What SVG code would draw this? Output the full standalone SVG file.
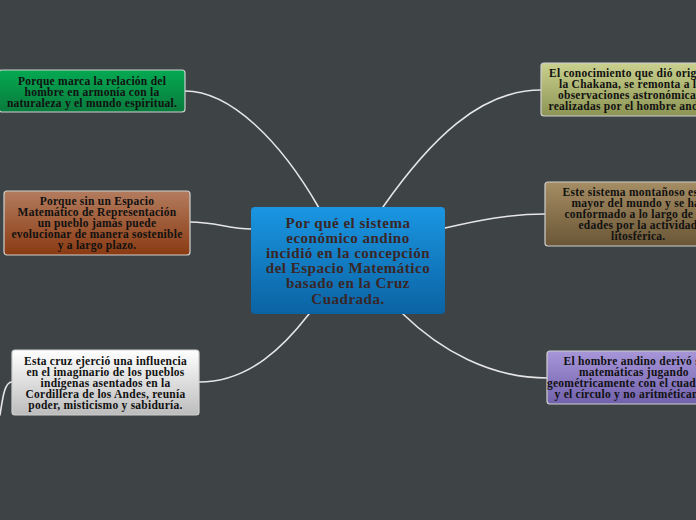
<svg xmlns="http://www.w3.org/2000/svg" width="696" height="520" viewBox="0 0 696 520">
<defs>
<linearGradient id="gGreen" x1="0" y1="0" x2="0" y2="1"><stop offset="0" stop-color="#04a952"/><stop offset="1" stop-color="#0a7a3c"/></linearGradient>
<linearGradient id="gBrown" x1="0" y1="0" x2="0" y2="1"><stop offset="0" stop-color="#b37c5e"/><stop offset="1" stop-color="#8a3a12"/></linearGradient>
<linearGradient id="gGrey" x1="0" y1="0" x2="0" y2="1"><stop offset="0" stop-color="#ffffff"/><stop offset="1" stop-color="#bcbcbc"/></linearGradient>
<linearGradient id="gBlue" x1="0" y1="0" x2="0" y2="1"><stop offset="0" stop-color="#1a96e2"/><stop offset="1" stop-color="#0b63a3"/></linearGradient>
<linearGradient id="gOlive" x1="0" y1="0" x2="0" y2="1"><stop offset="0" stop-color="#cad18e"/><stop offset="1" stop-color="#8c9454"/></linearGradient>
<linearGradient id="gTan" x1="0" y1="0" x2="0" y2="1"><stop offset="0" stop-color="#a58d64"/><stop offset="1" stop-color="#6a5636"/></linearGradient>
<linearGradient id="gPurple" x1="0" y1="0" x2="0" y2="1"><stop offset="0" stop-color="#a796d8"/><stop offset="1" stop-color="#7161ac"/></linearGradient>
</defs>
<style>
.node rect{stroke:#cfcfcf;stroke-width:1.2}
.t{font-family:"Liberation Serif","Times New Roman",serif;font-weight:bold;font-size:11.5px;letter-spacing:0.25px;fill:#111}
.c{font-family:"Liberation Serif","Times New Roman",serif;font-weight:bold;font-size:15px;letter-spacing:0.5px;fill:#3a2626;text-anchor:middle}
.m{text-anchor:middle}
#connectors path{fill:none;stroke:#e6e6e6;stroke-width:1.6;stroke-linecap:round}
</style>
<rect x="0" y="0" width="696" height="520" fill="#3e4446"/>
<g id="connectors">
<path d="M185,91 C230,91 280,140 319,208"/>
<path d="M190,222 C215,222 230,229 251,229"/>
<path d="M199,382 C250,382 285,345 309,314"/>
<path d="M12,382 C5,382 3,395 0,415"/>
<path d="M383,207 C430,140 480,90 541,90"/>
<path d="M445,228 C480,220 510,214 545,214"/>
<path d="M403,314 C440,350 490,378 547,378"/>
</g>
<g id="center">
<rect x="251" y="207" width="194" height="107" rx="4" fill="url(#gBlue)"/>
<text class="c" x="348"><tspan x="348" y="227.5">Por qué el sistema</tspan><tspan x="348" y="242.7">económico andino</tspan><tspan x="348" y="257.9">incidió en la concepción</tspan><tspan x="348" y="273.1">del Espacio Matemático</tspan><tspan x="348" y="288.3">basado en la Cruz</tspan><tspan x="348" y="303.5">Cuadrada.</tspan></text>
</g>
<g id="n1" class="node">
<rect x="-1" y="70" width="186" height="42" rx="3" fill="url(#gGreen)"/>
<text class="t m"><tspan x="92" y="84.5">Porque marca la relación del</tspan><tspan x="92" y="95.5">hombre en armonía con la</tspan><tspan x="92" y="106.5">naturaleza y el mundo espiritual.</tspan></text>
</g>
<g id="n2" class="node">
<rect x="4" y="191" width="186" height="64" rx="3" fill="url(#gBrown)"/>
<text class="t m"><tspan x="97" y="205">Porque sin un Espacio</tspan><tspan x="97" y="216">Matemático de Representación</tspan><tspan x="97" y="227">un pueblo jamás puede</tspan><tspan x="97" y="238">evolucionar de manera sostenible</tspan><tspan x="97" y="249">y a largo plazo.</tspan></text>
</g>
<g id="n3" class="node">
<rect x="12" y="350" width="187" height="65" rx="3" fill="url(#gGrey)"/>
<text class="t m"><tspan x="105.5" y="365">Esta cruz ejerció una influencia</tspan><tspan x="105.5" y="376">en el imaginario de los pueblos</tspan><tspan x="105.5" y="387">indígenas asentados en la</tspan><tspan x="105.5" y="398">Cordillera de los Andes, reunía</tspan><tspan x="105.5" y="409">poder, misticismo y sabiduría.</tspan></text>
</g>
<g id="r1" class="node">
<rect x="541" y="63" width="200" height="53" rx="3" fill="url(#gOlive)"/>
<text class="t"><tspan x="549" y="76.5">El conocimiento que dió origen a</tspan><tspan x="559" y="87.5">la Chakana, se remonta a las</tspan><tspan x="558" y="98.5">observaciones astronómicas</tspan><tspan x="548.5" y="109.5">realizadas por el hombre andino.</tspan></text>
</g>
<g id="r2" class="node">
<rect x="545" y="182" width="200" height="64" rx="3" fill="url(#gTan)"/>
<text class="t"><tspan x="562.5" y="196">Este sistema montañoso es el</tspan><tspan x="571.5" y="207">mayor del mundo y  se ha</tspan><tspan x="564.5" y="218">conformado a lo largo de las</tspan><tspan x="578.5" y="229">edades por la actividad</tspan><tspan x="611" y="240">litosférica.</tspan></text>
</g>
<g id="r3" class="node">
<rect x="547" y="351" width="200" height="53" rx="3" fill="url(#gPurple)"/>
<text class="t"><tspan x="563.5" y="365">El hombre andino derivó sus</tspan><tspan x="579" y="376">matemáticas jugando</tspan><tspan x="547" y="387">geométricamente con el cuadrado</tspan><tspan x="554.5" y="398">y el círculo y no aritméticamente.</tspan></text>
</g>
</svg>
